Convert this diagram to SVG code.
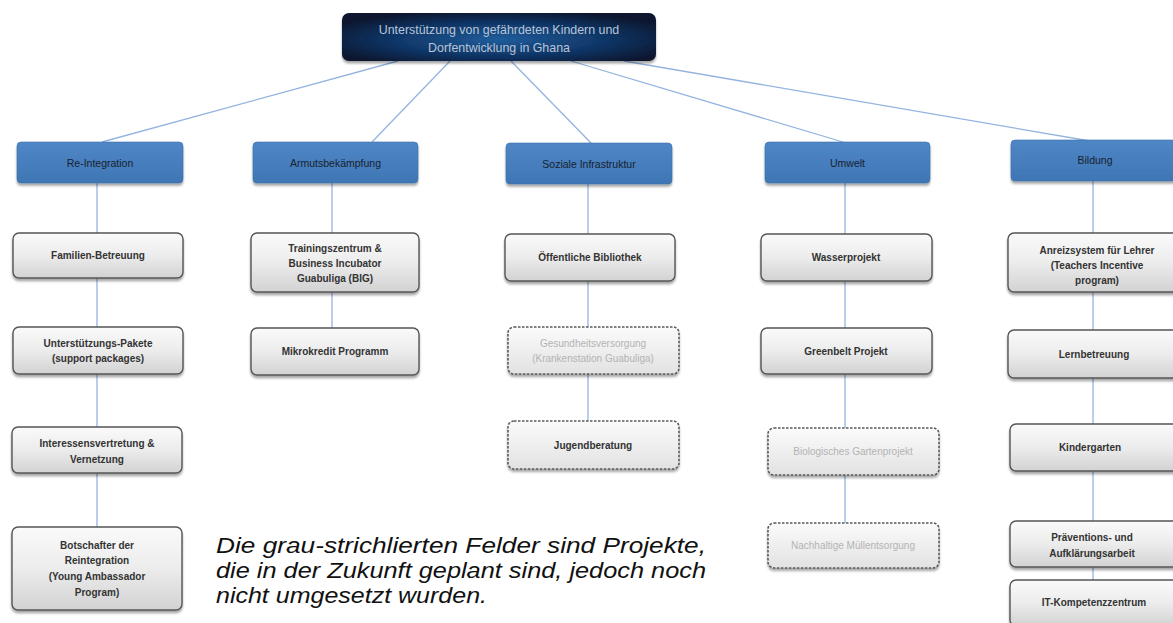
<svg xmlns="http://www.w3.org/2000/svg" width="1173" height="623" viewBox="0 0 1173 623">
<defs>
<radialGradient id="gTop" cx="0.5" cy="0.55" r="0.6">
<stop offset="0" stop-color="#1f5d9c"/>
<stop offset="0.6" stop-color="#0f3363"/>
<stop offset="1" stop-color="#07172e"/>
</radialGradient>
<linearGradient id="gHead" x1="0" y1="0" x2="0" y2="1">
<stop offset="0" stop-color="#4f86c6"/>
<stop offset="1" stop-color="#3f76b4"/>
</linearGradient>
<linearGradient id="gBox" x1="0" y1="0" x2="0" y2="1">
<stop offset="0" stop-color="#fafafa"/>
<stop offset="0.5" stop-color="#ececec"/>
<stop offset="1" stop-color="#d2d2d2"/>
</linearGradient>
<linearGradient id="gDash" x1="0" y1="0" x2="0" y2="1">
<stop offset="0" stop-color="#fbfbfb"/>
<stop offset="1" stop-color="#e2e2e2"/>
</linearGradient>
<filter id="sh" x="-10%" y="-20%" width="120%" height="150%">
<feDropShadow dx="0" dy="2.5" stdDeviation="1.2" flood-color="#000" flood-opacity="0.35"/>
</filter>
</defs>
<style>
.con{stroke:#93b4df;stroke-width:1.3;fill:none}
.top{fill:url(#gTop);filter:url(#sh)}
.ttl{font-family:"Liberation Sans",Arial,sans-serif;font-size:12.4px;fill:#b7c5d8;text-anchor:middle}
.hd{fill:url(#gHead);stroke:#3a6ea8;stroke-width:0.6;filter:url(#sh)}
.ht{font-family:"Liberation Sans",Arial,sans-serif;font-size:10.5px;fill:#17222f;text-anchor:middle}
.bx{fill:url(#gBox);stroke:#555;stroke-width:1.4;filter:url(#sh)}
.dbx{fill:url(#gDash);stroke:#5a5a5a;stroke-width:1.6;stroke-dasharray:2.5 1.5;filter:url(#sh)}
.bt{font-family:"Liberation Sans",Arial,sans-serif;font-size:10px;font-weight:bold;fill:#333;text-anchor:middle}
.lt{font-family:"Liberation Sans",Arial,sans-serif;font-size:10px;fill:#b3b3b3;text-anchor:middle}
.note{font-family:"Liberation Sans",Arial,sans-serif;font-size:22px;font-style:italic;fill:#111}
</style>
<rect width="1173" height="623" fill="#fff"/>
<g id="connectors">
<line class="con" x1="398" y1="61" x2="102" y2="142"/>
<line class="con" x1="450" y1="61" x2="372" y2="142"/>
<line class="con" x1="511" y1="61" x2="591" y2="143"/>
<line class="con" x1="571" y1="61" x2="843" y2="142"/>
<line class="con" x1="624" y1="61" x2="1090" y2="141"/>
<line class="con" x1="97" y1="183" x2="97" y2="527"/>
<line class="con" x1="332" y1="183" x2="332" y2="328"/>
<line class="con" x1="588" y1="184" x2="588" y2="421"/>
<line class="con" x1="845" y1="183" x2="845" y2="523"/>
<line class="con" x1="1093" y1="181" x2="1093" y2="580"/>
</g>
<g id="root">
<rect class="top" x="342" y="13" width="314" height="48" rx="7"/>
<text class="ttl" x="499" y="34">Unterstützung von gefährdeten Kindern und</text>
<text class="ttl" x="499" y="52">Dorfentwicklung in Ghana</text>
</g>
<g id="h-reintegration">
<rect class="hd" x="17" y="142" width="166" height="41" rx="4"/>
<text class="ht" x="100" y="167">Re-Integration</text>
</g>
<g id="h-armut">
<rect class="hd" x="253" y="142" width="165" height="41" rx="4"/>
<text class="ht" x="335.5" y="167">Armutsbekämpfung</text>
</g>
<g id="h-sozial">
<rect class="hd" x="506" y="143" width="166" height="41" rx="4"/>
<text class="ht" x="589" y="168">Soziale Infrastruktur</text>
</g>
<g id="h-umwelt">
<rect class="hd" x="765" y="142" width="165" height="41" rx="4"/>
<text class="ht" x="847.5" y="167">Umwelt</text>
</g>
<g id="h-bildung">
<rect class="hd" x="1011" y="140" width="170" height="41" rx="4"/>
<text class="ht" x="1095" y="164">Bildung</text>
</g>
<g id="n-familien">
<rect class="bx" x="13" y="233" width="170" height="45" rx="6"/>
<text class="bt" x="98" y="259">Familien-Betreuung</text>
</g>
<g id="n-pakete">
<rect class="bx" x="13" y="327" width="170" height="47" rx="6"/>
<text class="bt" x="98" y="347">Unterstützungs-Pakete</text>
<text class="bt" x="98" y="362">(support packages)</text>
</g>
<g id="n-interessen">
<rect class="bx" x="12" y="427" width="170" height="46" rx="6"/>
<text class="bt" x="97" y="447">Interessensvertretung &amp;</text>
<text class="bt" x="97" y="463">Vernetzung</text>
</g>
<g id="n-botschafter">
<rect class="bx" x="12" y="527" width="170" height="83" rx="6"/>
<text class="bt" x="97" y="549">Botschafter der</text>
<text class="bt" x="97" y="564">Reintegration</text>
<text class="bt" x="97" y="580">(Young Ambassador</text>
<text class="bt" x="97" y="596">Program)</text>
</g>
<g id="n-training">
<rect class="bx" x="251" y="233" width="168" height="59" rx="6"/>
<text class="bt" x="335" y="252">Trainingszentrum &amp;</text>
<text class="bt" x="335" y="267">Business Incubator</text>
<text class="bt" x="335" y="282">Guabuliga (BIG)</text>
</g>
<g id="n-mikrokredit">
<rect class="bx" x="251" y="328" width="168" height="47" rx="6"/>
<text class="bt" x="335" y="355">Mikrokredit Programm</text>
</g>
<g id="n-bibliothek">
<rect class="bx" x="505" y="234" width="170" height="47" rx="6"/>
<text class="bt" x="590" y="261">Öffentliche Bibliothek</text>
</g>
<g id="n-gesundheit">
<rect class="dbx" x="508" y="327" width="171" height="47" rx="6"/>
<text class="lt" x="593" y="347">Gesundheitsversorgung</text>
<text class="lt" x="593" y="362">(Krankenstation Guabuliga)</text>
</g>
<g id="n-jugend">
<rect class="dbx" x="508" y="421" width="171" height="48" rx="6"/>
<text class="bt" x="593" y="449">Jugendberatung</text>
</g>
<g id="n-wasser">
<rect class="bx" x="761" y="234" width="171" height="47" rx="6"/>
<text class="bt" x="846" y="261">Wasserprojekt</text>
</g>
<g id="n-greenbelt">
<rect class="bx" x="761" y="328" width="171" height="46" rx="6"/>
<text class="bt" x="846" y="355">Greenbelt Projekt</text>
</g>
<g id="n-garten">
<rect class="dbx" x="768" y="428" width="171" height="47" rx="6"/>
<text class="lt" x="853" y="455">Biologisches Gartenprojekt</text>
</g>
<g id="n-muell">
<rect class="dbx" x="768" y="523" width="171" height="45" rx="6"/>
<text class="lt" x="853" y="549">Nachhaltige Müllentsorgung</text>
</g>
<g id="n-anreiz">
<rect class="bx" x="1008" y="233" width="176" height="59" rx="6"/>
<text class="bt" x="1097" y="254">Anreizsystem für Lehrer</text>
<text class="bt" x="1097" y="269">(Teachers Incentive</text>
<text class="bt" x="1097" y="284">program)</text>
</g>
<g id="n-lern">
<rect class="bx" x="1008" y="330" width="176" height="48" rx="6"/>
<text class="bt" x="1094" y="358">Lernbetreuung</text>
</g>
<g id="n-kinder">
<rect class="bx" x="1010" y="424" width="174" height="47" rx="6"/>
<text class="bt" x="1090" y="451">Kindergarten</text>
</g>
<g id="n-praevention">
<rect class="bx" x="1010" y="521" width="174" height="46" rx="6"/>
<text class="bt" x="1092" y="541">Präventions- und</text>
<text class="bt" x="1092" y="557">Aufklärungsarbeit</text>
</g>
<g id="n-it">
<rect class="bx" x="1010" y="580" width="174" height="46" rx="6"/>
<text class="bt" x="1094" y="606">IT-Kompetenzzentrum</text>
</g>
<g id="note">
<text class="note" x="216" y="553" textLength="490" lengthAdjust="spacingAndGlyphs">Die grau-strichlierten Felder sind Projekte,</text>
<text class="note" x="216" y="578" textLength="490" lengthAdjust="spacingAndGlyphs">die in der Zukunft geplant sind, jedoch noch</text>
<text class="note" x="216" y="603" textLength="271" lengthAdjust="spacingAndGlyphs">nicht umgesetzt wurden.</text>
</g>
</svg>
